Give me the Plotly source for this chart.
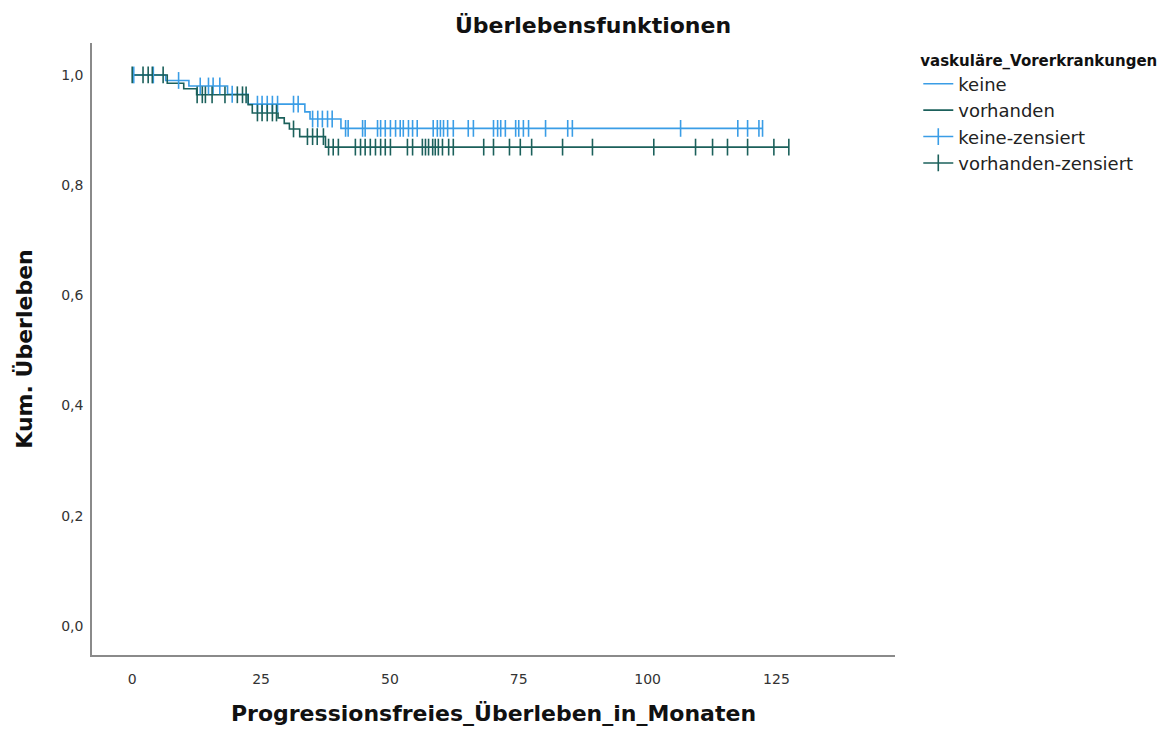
import plotly.graph_objects as go

# Kaplan-Meier step data: event times (months) and survival after each step
keine_times = [0, 6.5, 11.0, 18.5, 22.5, 33.5, 34.5, 40.5]
keine_surv = [1.0, 0.99, 0.98, 0.965, 0.947, 0.933, 0.92, 0.903]
keine_end = 122.3

vorh_times = [0, 6.8, 10.0, 12.5, 22.5, 23.3, 28.3, 29.5, 30.5, 32.5, 37.5]
vorh_surv = [1.0, 0.985, 0.975, 0.964, 0.946, 0.931, 0.922, 0.912, 0.902, 0.888, 0.869]
vorh_end = 127.4

# Censored observations (months)
keine_cens = [0.3, 4.1, 9.0, 13.2, 14.8, 15.7, 17.0, 19.4, 24.3, 25.2, 26.2, 27.2,
              28.2, 31.3, 32.2, 35.0, 36.0, 36.9, 37.9, 38.8, 41.4, 41.9, 44.7,
              45.2, 47.6, 48.2, 49.1, 50.1, 51.1, 52.0, 52.6, 53.6, 54.4, 55.3,
              58.4, 59.2, 59.8, 60.4, 61.2, 62.3, 65.2, 66.2, 70.1, 70.9, 71.5,
              72.4, 74.4, 75.0, 75.9, 76.9, 80.2, 84.5, 85.4, 106.4, 117.5,
              119.4, 121.6, 122.3]
vorh_cens = [0.0, 2.1, 3.1, 3.9, 6.0, 12.6, 13.6, 14.2, 15.5, 18.0, 20.4, 21.4,
             22.1, 24.3, 25.2, 26.2, 27.2, 28.0, 31.3, 34.0, 35.0, 35.9, 37.1,
             38.1, 39.0, 40.0, 43.3, 44.3, 45.2, 46.2, 47.2, 48.2, 49.1, 50.1,
             53.4, 54.4, 56.3, 56.9, 57.5, 58.3, 58.8, 59.4, 60.2, 61.4, 62.3,
             68.2, 70.1, 73.2, 75.3, 77.5, 83.5, 89.3, 101.2, 109.3, 112.6,
             115.5, 119.4, 124.5, 127.4]

x_ticks = [0, 25, 50, 75, 100, 125]
y_ticks = [0.0, 0.2, 0.4, 0.6, 0.8, 1.0]

BLUE = "#3a9de6"
GREEN = "#1b605b"
FONT = "DejaVu Sans"


def surv_at(t, times, surv):
    s = surv[0]
    for ti, si in zip(times, surv):
        if ti <= t:
            s = si
    return s


def step_xy(times, surv, end):
    return list(times) + [end], list(surv) + [surv[-1]]


def censor_xy(cens, times, surv):
    # isolated points separated by gaps: markers only, but a line swatch in the legend
    xs, ys = [], []
    for c in cens:
        xs += [c, None]
        ys += [surv_at(c, times, surv), None]
    return xs, ys


fig = go.Figure()

for name, times, surv, end, col in [
    ("keine", keine_times, keine_surv, keine_end, BLUE),
    ("vorhanden", vorh_times, vorh_surv, vorh_end, GREEN),
]:
    x, y = step_xy(times, surv, end)
    fig.add_trace(go.Scatter(x=x, y=y, mode="lines", name=name,
                             line=dict(color=col, width=1.6, shape="hv")))

for name, cens, times, surv, col in [
    ("keine-zensiert", keine_cens, keine_times, keine_surv, BLUE),
    ("vorhanden-zensiert", vorh_cens, vorh_times, vorh_surv, GREEN),
]:
    x, y = censor_xy(cens, times, surv)
    fig.add_trace(go.Scatter(x=x, y=y, mode="lines+markers", name=name,
                             connectgaps=False,
                             line=dict(color=col, width=1.6),
                             marker=dict(symbol="line-ns", size=12,
                                         line=dict(color=col, width=1.6))))

fig.update_layout(
    width=1165, height=731,
    margin=dict(l=92, r=270, t=43, b=76, autoexpand=False),
    paper_bgcolor="white", plot_bgcolor="white",
    separators=",.",
    font=dict(family=FONT, color="#222222"),
    title=dict(text="<b>Überlebensfunktionen</b>", x=0.509, xanchor="center",
               y=0.966, yanchor="middle", font=dict(size=22, color="#111111")),
    showlegend=True,
    legend=dict(x=1.029, xanchor="left", y=0.995, yanchor="top",
                title=dict(text="<b>vaskuläre_Vorerkrankungen</b>",
                           font=dict(size=15, color="#111111")),
                font=dict(size=18, color="#222222"),
                tracegroupgap=0, itemwidth=30),
    xaxis=dict(range=[-7.8, 148], tickvals=x_ticks, showgrid=False,
               zeroline=False, showline=True, linecolor="#8a8a8a", linewidth=1.5,
               ticks="outside", ticklen=10, tickcolor="rgba(0,0,0,0)",
               tickfont=dict(size=14, color="#333333"),
               title=dict(text="<b>Progressionsfreies_Überleben_in_Monaten</b>",
                          font=dict(size=22, color="#111111"), standoff=20)),
    yaxis=dict(range=[-0.053, 1.058], tickvals=y_ticks, tickformat=".1f",
               showgrid=False, zeroline=False, showline=True,
               linecolor="#8a8a8a", linewidth=1.5,
               ticks="outside", ticklen=4, tickcolor="rgba(0,0,0,0)",
               tickfont=dict(size=14, color="#333333"),
               title=dict(text="<b>Kum. Überleben</b>",
                          font=dict(size=22, color="#111111"), standoff=22)),
)

fig.write_html("out.html")
